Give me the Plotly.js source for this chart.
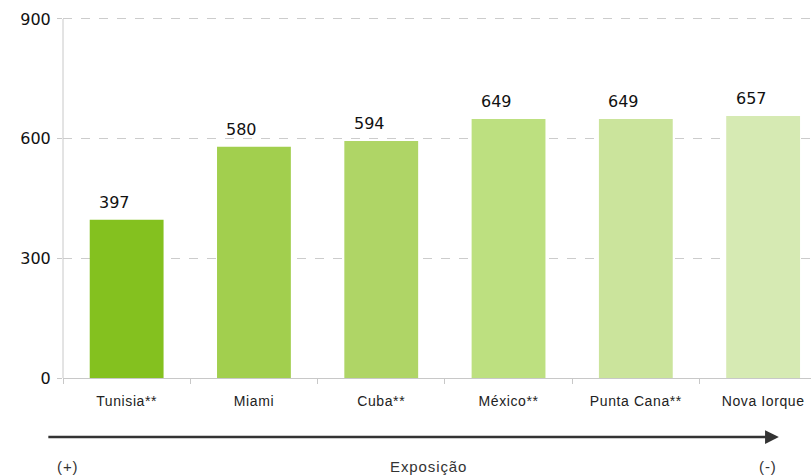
<!DOCTYPE html>
<html>
<head>
<meta charset="utf-8">
<script src="https://cdn.plot.ly/plotly-3.0.1.min.js"></script>
<style>
html,body{margin:0;padding:0;background:#fff;}
#chart{width:811px;height:475px;}
#chart .xtick text{letter-spacing:0.6px;}
</style>
</head>
<body>
<div id="chart"></div>
<script>
const categories = ["Tunisia**", "Miami", "Cuba**", "México**", "Punta Cana**", "Nova Iorque"];
const values = [397, 580, 594, 649, 649, 657];
const barColors = ["#84c11f", "#a2cf4e", "#afd566", "#bde080", "#cbe49c", "#d6eab3"];
const yTicks = [0, 300, 600, 900];
const exposureLabels = ["(+)", "Exposição", "(-)"];

const trace = {
  type: "bar",
  x: categories,
  y: values,
  marker: {color: barColors, line: {width: 0}},
  width: 0.58,
  hoverinfo: "none"
};

const annotations = categories.map((c, i) => ({
  x: c, y: values[i], xref: "x", yref: "y",
  text: String(values[i]), showarrow: false,
  xanchor: "center", yanchor: "bottom", xshift: -12, yshift: 6,
  font: {family: "DejaVu Sans", size: 16, color: "#111"}
}));

const plotH = 363;
// exposure arrow
annotations.push({
  xref: "paper", yref: "paper", x: 0.957, y: (378 - 437) / plotH,
  ax: -732, ay: 0, axref: "pixel", ayref: "pixel",
  text: "", showarrow: true, arrowhead: 2, arrowsize: 1.1, arrowwidth: 2.5,
  arrowcolor: "#333"
});
const labelX = [67, 428, 768];
exposureLabels.forEach((t, i) => {
  annotations.push({
    xref: "paper", yref: "paper", x: (labelX[i] - 63) / 748, y: (378 - 466) / plotH,
    text: '<span style="letter-spacing:0.9px">' + t + '</span>', showarrow: false,
    xanchor: "center", yanchor: "middle",
    font: {family: "Liberation Sans, Arial", size: 15, color: "#333"}
  });
});

const layout = {
  width: 811, height: 475,
  margin: {l: 63, r: 0, t: 15, b: 97},
  paper_bgcolor: "#fff", plot_bgcolor: "#fff",
  showlegend: false,
  xaxis: {
    type: "category",
    range: [-0.5, 5.376],
    showline: true, linecolor: "#c8c8c8", linewidth: 1,
    ticks: "outside", ticklen: 5, tickcolor: "#c8c8c8",
    tickson: "boundaries",
    showgrid: false,
    tickfont: {family: "Liberation Sans, Arial", size: 14, color: "#222"},
    ticklabelstandoff: 10,
    fixedrange: true
  },
  yaxis: {
    range: [0, 910],
    tickvals: yTicks,
    ticktext: yTicks.map(String),
    showline: false,
    ticks: "outside", ticklen: 5, tickcolor: "#c8c8c8",
    showgrid: true, gridcolor: "#cccccc", griddash: "dash", gridwidth: 1,
    zeroline: false,
    tickfont: {family: "DejaVu Sans", size: 16, color: "#111"},
    ticklabelstandoff: 3,
    fixedrange: true
  },
  shapes: [{
    type: "line", xref: "paper", yref: "y", x0: 0, x1: 0, y0: 0, y1: yTicks[yTicks.length - 1],
    line: {color: "#c8c8c8", width: 1}
  }],
  annotations: annotations
};

Plotly.newPlot("chart", [trace], layout, {displayModeBar: false, staticPlot: true});
</script>
</body>
</html>
